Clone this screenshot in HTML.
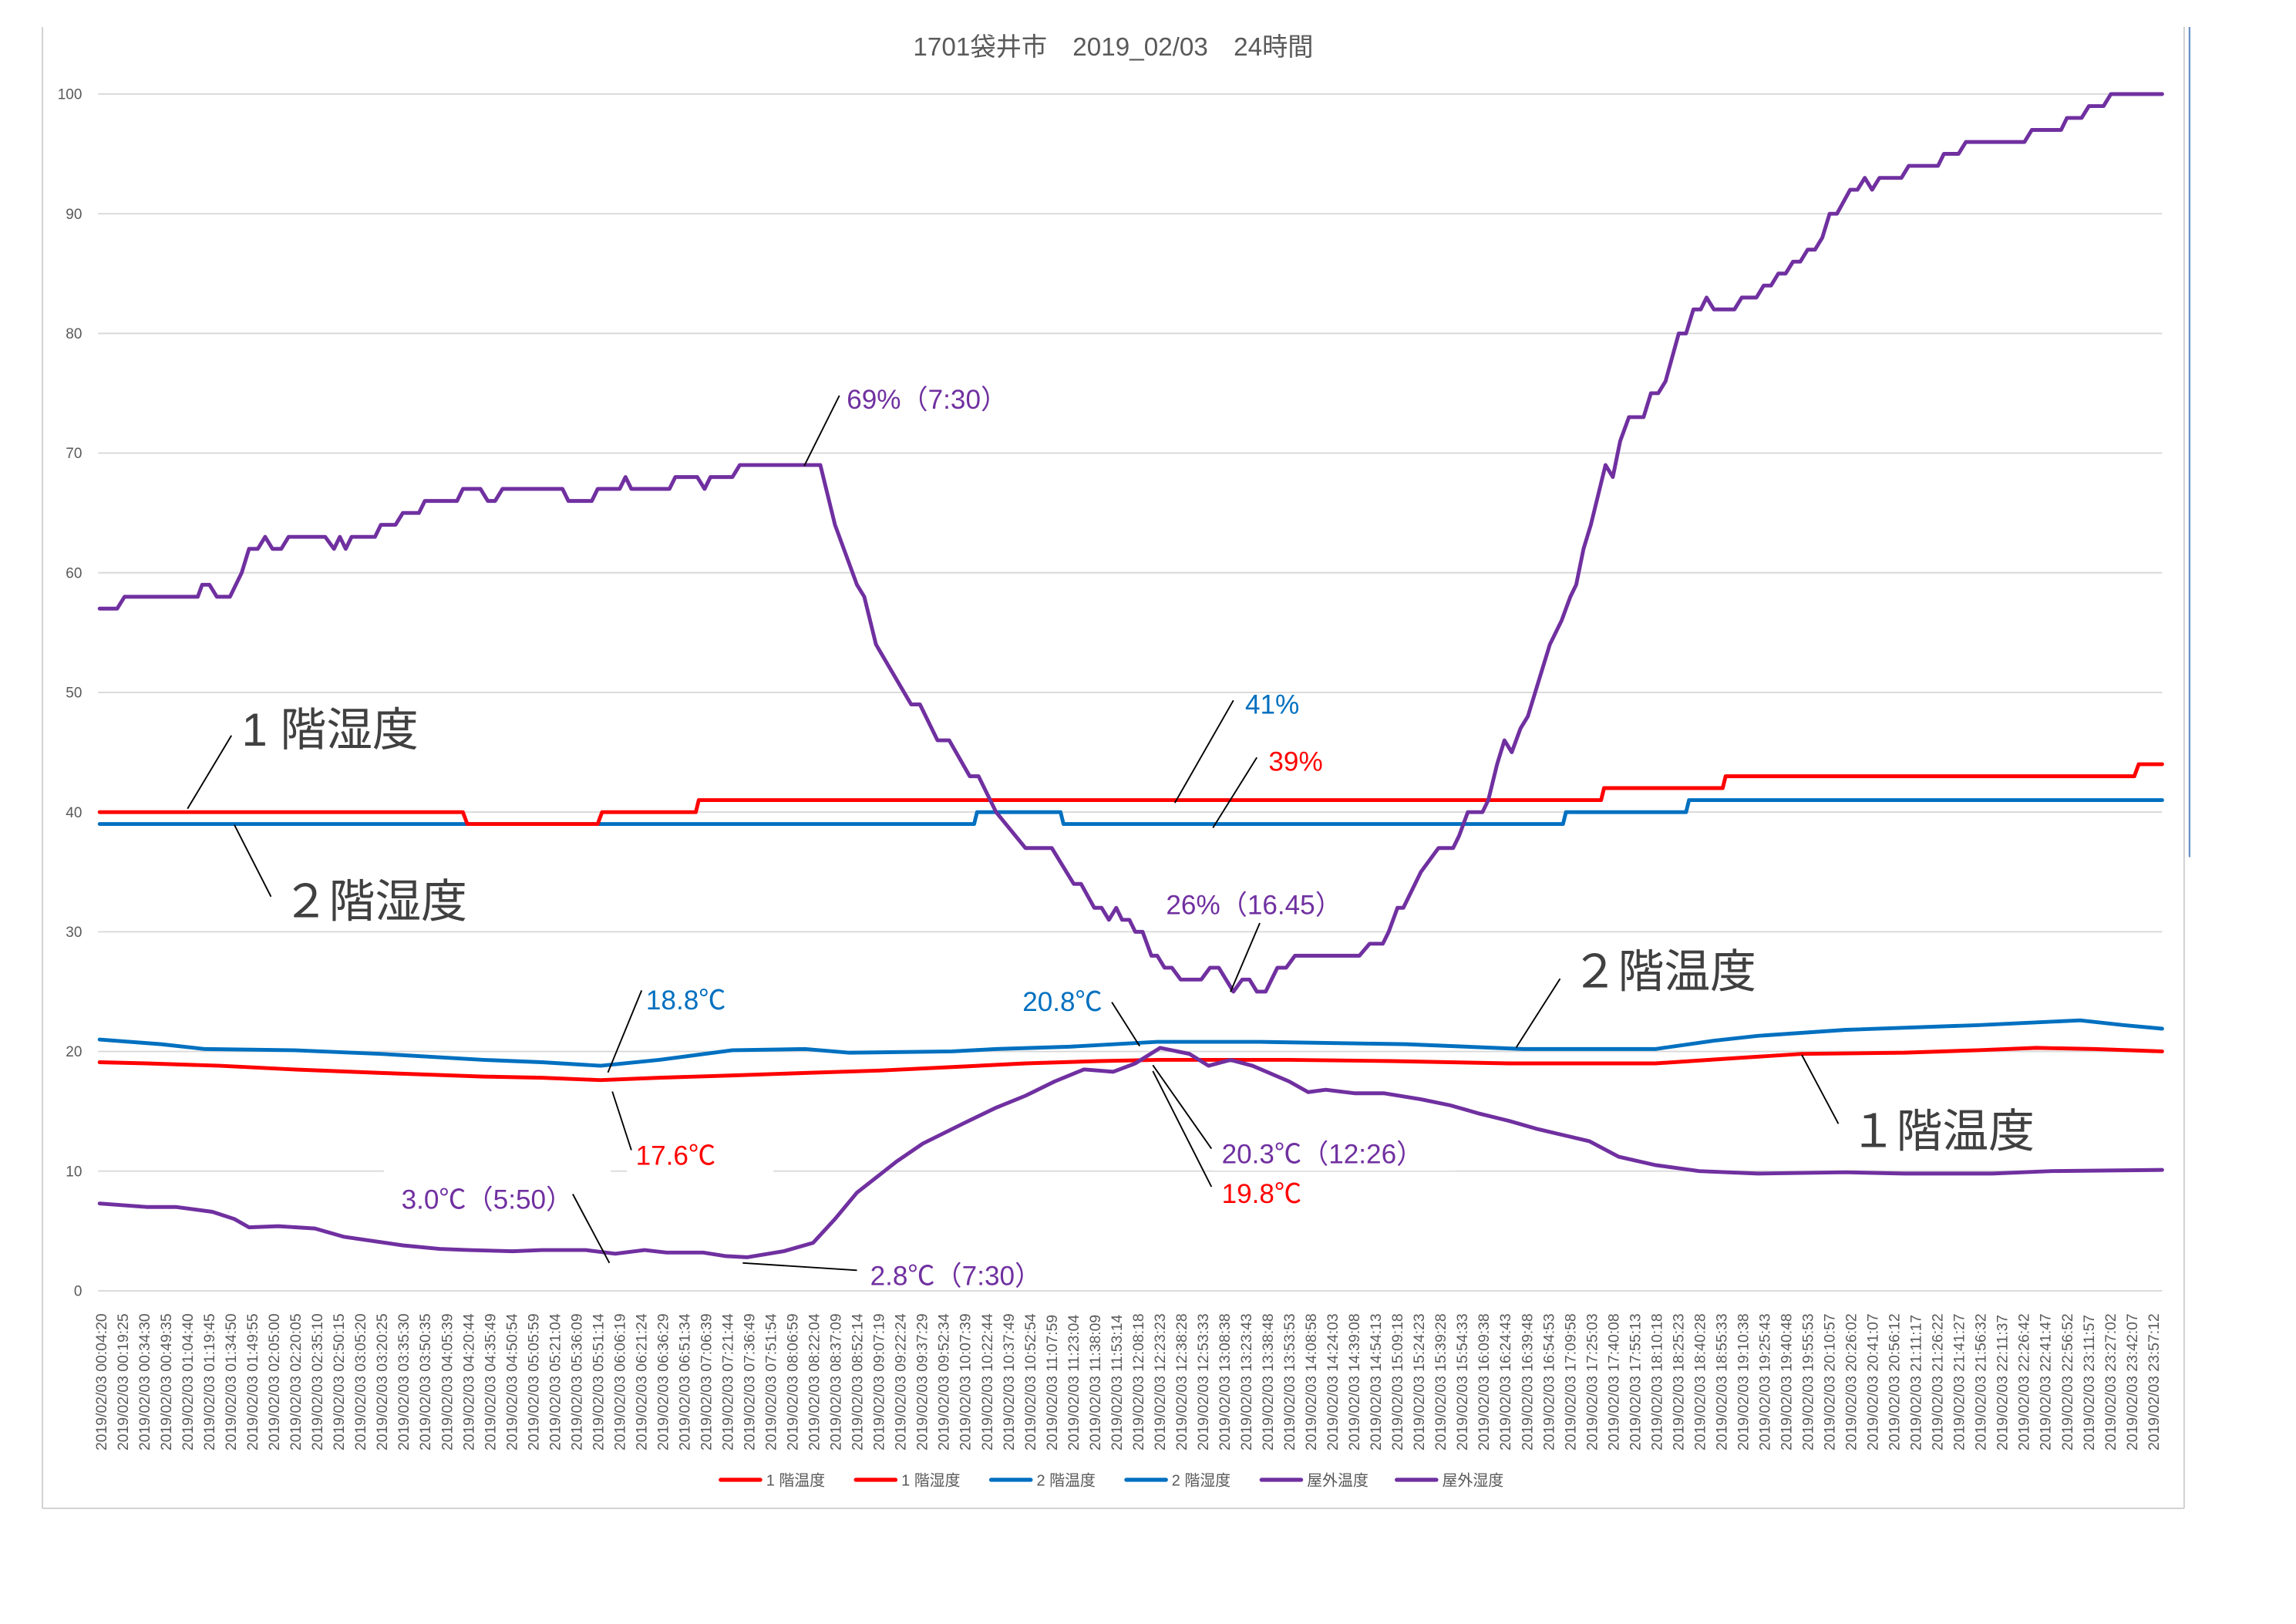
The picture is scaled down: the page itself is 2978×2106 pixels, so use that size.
<!DOCTYPE html>
<html><head><meta charset="utf-8"><style>
html,body{margin:0;padding:0;background:#fff;}
svg{display:block;}
text{font-family:"Liberation Sans","Noto Sans CJK JP",sans-serif;}
</style></head><body>
<svg id="c" width="2978" height="2106" viewBox="0 0 1567.37 1108.42" xmlns="http://www.w3.org/2000/svg">
<rect x="0" y="0" width="1567.37" height="1108.42" fill="#fff"/>
<line x1="29" y1="18.4" x2="29" y2="1029.5" stroke="#d0d0d0" stroke-width="1"/>
<line x1="29" y1="1029.5" x2="1491" y2="1029.5" stroke="#d0d0d0" stroke-width="1"/>
<line x1="1491" y1="18.4" x2="1491" y2="1029.5" stroke="#d0d0d0" stroke-width="1"/>
<line x1="1494.7" y1="18.4" x2="1494.7" y2="585" stroke="#6a8fc4" stroke-width="1.2"/>
<g id="grid"></g>
<text x="760" y="38" text-anchor="middle" font-size="17.5" fill="#595959">1701袋井市　2019_02/03　24時間</text>
<g id="xl"></g>
<g id="series"></g>
<rect x="262" y="790" width="155" height="18" fill="#fff"/>
<rect x="428" y="780" width="100" height="22" fill="#fff"/>
<rect x="828" y="775" width="165" height="24" fill="#fff"/>
<g stroke="#000" stroke-width="1" fill="none">
<line x1="573" y1="270" x2="549" y2="318"/>
<line x1="158" y1="502" x2="128" y2="552"/>
<line x1="160" y1="563" x2="185" y2="612"/>
<line x1="842" y1="478" x2="802" y2="548"/>
<line x1="858" y1="517" x2="828" y2="565"/>
<line x1="860" y1="630" x2="840" y2="677"/>
<line x1="1065" y1="668" x2="1035" y2="715"/>
<line x1="1255" y1="767" x2="1230" y2="720"/>
<line x1="438" y1="676" x2="415" y2="732"/>
<line x1="431" y1="785" x2="418" y2="745"/>
<line x1="759" y1="684" x2="778" y2="714"/>
<line x1="827" y1="784" x2="787" y2="727"/>
<line x1="827" y1="810" x2="787" y2="731"/>
<line x1="391" y1="815" x2="416" y2="862"/>
<line x1="585" y1="867" x2="507" y2="862"/>
</g>
<g font-size="18.5">
<text x="578" y="279" fill="#7030A0">69%（7:30）</text>
<text x="850" y="487" fill="#0070C0">41%</text>
<text x="866" y="526" fill="#FF0000">39%</text>
<text x="796" y="624" fill="#7030A0">26%（16.45）</text>
<text x="441" y="689" fill="#0070C0">18.8℃</text>
<text x="434" y="795" fill="#FF0000">17.6℃</text>
<text x="698" y="690" fill="#0070C0">20.8℃</text>
<text x="834" y="794" fill="#7030A0">20.3℃（12:26）</text>
<text x="834" y="821" fill="#FF0000">19.8℃</text>
<text x="274" y="825" fill="#7030A0">3.0℃（5:50）</text>
<text x="594" y="877" fill="#7030A0">2.8℃（7:30）</text>
</g>
<g font-size="31.5" fill="#404040">
<text x="165" y="509">1 階湿度</text>
<text x="193" y="626">２階湿度</text>
<text x="1073" y="674">２階温度</text>
<text x="1263" y="783">１階温度</text>
</g>
<g id="leg"></g>
</svg>
<script>
var NS="http://www.w3.org/2000/svg";
function el(p,t,a,txt){var e=document.createElementNS(NS,t);for(var k in a)e.setAttribute(k,a[k]);if(txt!=null)e.textContent=txt;p.appendChild(e);return e;}
function Y(v){return 881-v*8.168;}
var g=document.getElementById('grid');
for(var v=0;v<=100;v+=10){var y=Y(v);el(g,'line',{x1:67,y1:y,x2:1476,y2:y,stroke:'#d9d9d9','stroke-width':1});
el(g,'text',{x:56,y:y+3.5,'text-anchor':'end','font-size':10,fill:'#595959'},String(v));}
var xl=document.getElementById('xl');
var t0=260,t1=86232,n=96;
function pad(n){return (n<10?'0':'')+n;}
for(var i=0;i<n;i++){var t=Math.round(t0+(t1-t0)*i/(n-1));var h=Math.floor(t/3600),m=Math.floor(t%3600/60),s=t%60;
var x=69+i*(1470-69)/(n-1);
el(xl,'text',{transform:'translate('+(x+3.6)+',990) rotate(-90)','font-size':10.2,fill:'#595959'},'2019/02/03 '+pad(h)+':'+pad(m)+':'+pad(s));}
var S=document.getElementById('series');
function line(pts,col,w){var d='';for(var i=0;i<pts.length;i+=2)d+=(i?'L':'M')+pts[i]+','+Y(pts[i+1]).toFixed(1);
el(S,'path',{d:d,fill:'none',stroke:col,'stroke-width':w||2.6,'stroke-linejoin':'round','stroke-linecap':'round'});}
function steps(arr){var o=[];for(var i=0;i<arr.length;i++){var s=arr[i];o.push(s[0],s[2],s[1],s[2]);}return o;}
var RED='#FF0000',BLUE='#0070C0',PUR='#7030A0';
line(steps([[68,665,39],[667,724,40],[726,1067,39],[1069,1151,40],[1153,1476,41]]),BLUE);
line(steps([[68,316,40],[319,408,39],[411,475,40],[477,1093,41],[1095,1176,42],[1178,1457,43],[1460,1476,44]]),RED);
line([68,19.1,100,19.0,150,18.8,200,18.5,260,18.2,330,17.9,370,17.8,410,17.6,450,17.8,500,18.0,550,18.2,600,18.4,650,18.7,700,19.0,750,19.2,790,19.3,880,19.3,950,19.2,1030,19.0,1130,19.0,1180,19.4,1230,19.8,1300,19.9,1350,20.1,1390,20.3,1430,20.2,1476,20.0],RED);
line([68,21.0,110,20.6,140,20.2,200,20.1,260,19.8,330,19.3,370,19.1,410,18.8,450,19.3,500,20.1,550,20.2,580,19.9,650,20.0,680,20.2,730,20.4,790,20.8,860,20.8,960,20.6,1040,20.2,1130,20.2,1170,20.9,1200,21.3,1260,21.8,1350,22.2,1420,22.6,1450,22.2,1476,21.9],BLUE);
line([68,7.3,100,7.0,120,7.0,145,6.6,160,6.0,170,5.3,190,5.4,215,5.2,235,4.5,275,3.8,300,3.5,320,3.4,350,3.3,370,3.4,400,3.4,420,3.1,440,3.4,455,3.2,480,3.2,495,2.9,510,2.8,535,3.3,555,4.0,570,6.0,585,8.2,612,10.8,630,12.3,658,14.0,680,15.3,700,16.3,720,17.5,740,18.5,760,18.3,775,19.0,792,20.3,812,19.8,825,18.8,840,19.3,855,18.8,880,17.5,893,16.6,905,16.8,925,16.5,945,16.5,970,16.0,990,15.5,1010,14.8,1030,14.2,1050,13.5,1085,12.5,1105,11.2,1130,10.5,1160,10.0,1200,9.8,1260,9.9,1300,9.8,1360,9.8,1400,10.0,1476,10.1],PUR);
line([68,57,80,57,85,58,135,58,138,59,143,59,148,58,157,58,165,60,170,62,176,62,181,63,186,62,192,62,197,63,222,63,228,62,232,63,236,62,240,63,256,63,260,64,270,64,275,65,286,65,290,66,312,66,316,67,328,67,333,66,338,66,343,67,384,67,388,66,404,66,408,67,423,67,427,68,431,67,457,67,461,68,476,68,481,67,485,68,500,68,505,69,560,69,570,64,585,59,590,58,598,54,622,49,628,49,640,46,648,46,662,43,668,43,680,40,700,37,718,37,733,34,738,34,747,32,752,32,757,31,762,32,766,31,771,31,775,30,780,30,786,28,790,28,795,27,800,27,806,26,820,26,826,27,832,27,842,25,848,26,853,26,858,25,864,25,872,27,878,27,884,28,928,28,935,29,944,29,948,30,954,32,958,32,970,35,982,37,992,37,996,38,1002,40,1012,40,1016,41,1022,44,1027,46,1032,45,1038,47,1043,48,1058,54,1066,56,1072,58,1076,59,1081,62,1086,64,1092,67,1096,69,1101,68,1106,71,1112,73,1122,73,1127,75,1132,75,1137,76,1146,80,1151,80,1156,82,1161,82,1165,83,1170,82,1184,82,1189,83,1199,83,1204,84,1209,84,1214,85,1219,85,1224,86,1229,86,1234,87,1239,87,1244,88,1249,90,1254,90,1263,92,1268,92,1273,93,1278,92,1283,93,1298,93,1303,94,1323,94,1327,95,1337,95,1342,96,1382,96,1387,97,1407,97,1411,98,1421,98,1426,99,1436,99,1441,100,1476,100],PUR);
var L=document.getElementById('leg');
var items=[['1 階温度',RED],['1 階湿度',RED],['2 階温度',BLUE],['2 階湿度',BLUE],['屋外温度',PUR],['屋外湿度',PUR]];
for(var i=0;i<items.length;i++){var x=492+i*92.3;
el(L,'line',{x1:x,y1:1010,x2:x+27,y2:1010,stroke:items[i][1],'stroke-width':2.8,'stroke-linecap':'round'});
el(L,'text',{x:x+31,y:1014,'font-size':10.5,fill:'#595959'},items[i][0]);}
</script>
</body></html>
